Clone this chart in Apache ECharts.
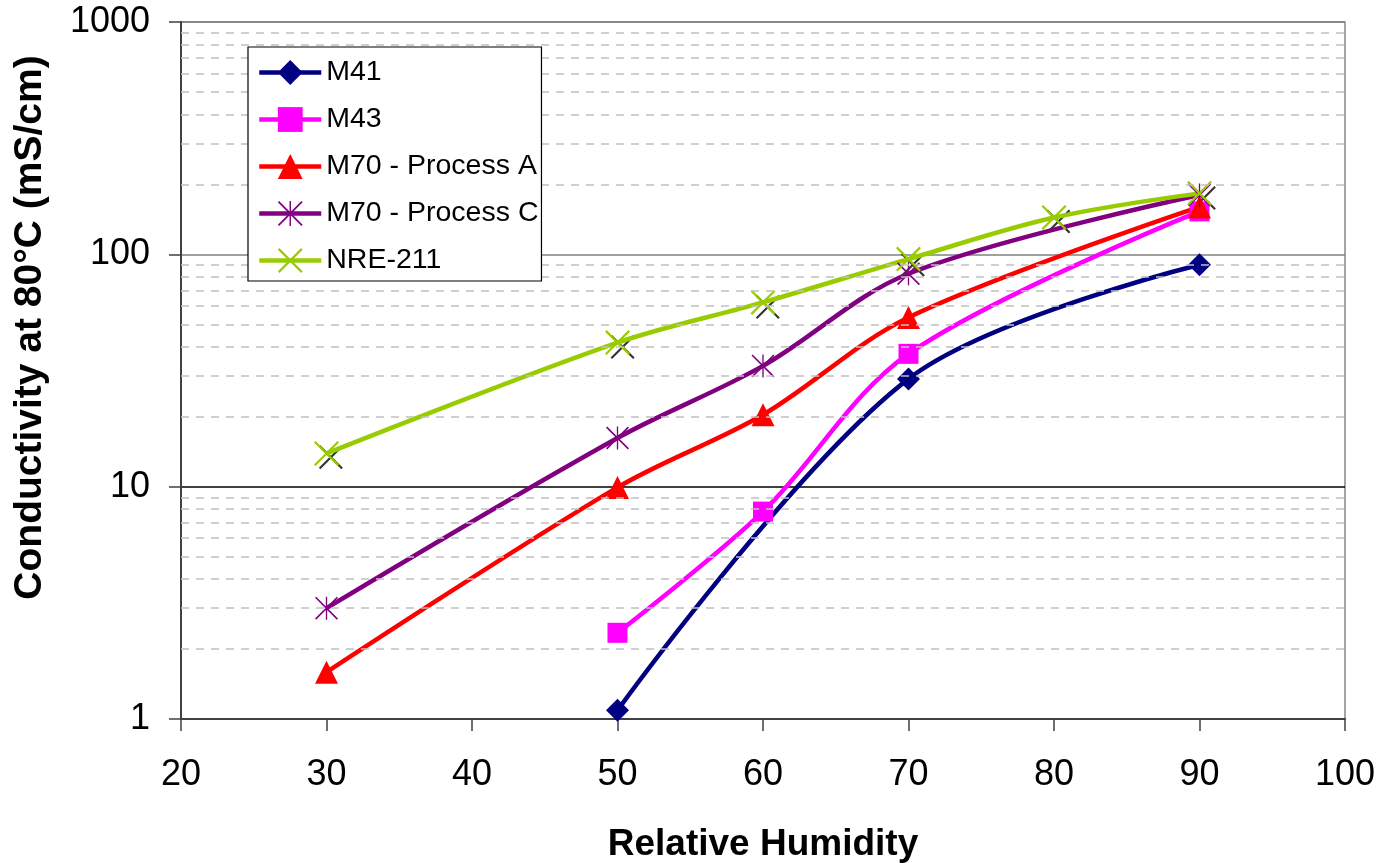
<!DOCTYPE html>
<html>
<head>
<meta charset="utf-8">
<script src="https://cdn.jsdelivr.net/npm/echarts@6/dist/echarts.min.js"></script>
<style>
html,body{margin:0;padding:0;background:#fff;}
#chart{width:1380px;height:863px;}
</style>
</head>
<body>
<div id="chart"></div>
<script>
// ---- data ----
const xTicks = [20, 30, 40, 50, 60, 70, 80, 90, 100];
const yTicks = [1, 10, 100, 1000];
const minorGridValues = [2,3,4,5,6,7,8,9,20,30,40,50,60,70,80,90,200,300,400,500,600,700,800,900];

const seriesNames = ['M41', 'M43', 'M70 - Process A', 'M70 - Process C', 'NRE-211'];

const rhM41 = [50, 70, 90];
const valM41 = [1.09, 29.1, 90.2];

const rhM43 = [50, 60, 70, 90];
const valM43 = [2.35, 7.81, 37.3, 153];

const rhM70A = [30, 50, 60, 70, 90];
const valM70A = [1.59, 9.93, 20.4, 53.5, 160];

const rhM70C = [30, 50, 60, 70, 90];
const valM70C = [3.0, 16.2, 33.1, 82.5, 180];

const rhNRE = [30, 50, 60, 70, 80, 90];
const valNRE = [13.9, 41.7, 62.1, 95.4, 144, 183];

// unlabelled black cross markers (no legend entry)
const rhBlack = [30.3, 50.35, 60.33, 70.3, 80.3, 90.3];
const valBlack = [13.4, 39.9, 59.3, 90.2, 138.6, 174.8];

// ---- helpers ----
function zip(xs, ys) { return xs.map((x, i) => [x, ys[i]]); }

const X_PATH = 'path://M0,1.5L1.5,0L24,22.5L22.5,24Z M22.5,0L24,1.5L1.5,24L0,22.5Z';
const STAR_PATH = 'path://M0,1.2L1.2,0L24,22.8L22.8,24Z M22.8,0L24,1.2L1.2,24L0,22.8Z M11.3,0L12.7,0L12.7,24L11.3,24Z';

const FONT = '"Liberation Sans", Arial, sans-serif';

function lineSeries(name, xs, ys, color, symbol, size) {
  return {
    name: name,
    type: 'line',
    data: zip(xs, ys),
    smooth: 0.33,
    symbol: symbol,
    symbolSize: size,
    showAllSymbol: true,
    lineStyle: { color: color, width: 4.5 },
    itemStyle: { color: color, borderWidth: 0 },
    emphasis: { disabled: true },
    z: 3
  };
}

const chart = echarts.init(document.getElementById('chart'), null, { renderer: 'canvas' });

const option = {
  animation: false,
  backgroundColor: '#ffffff',
  textStyle: { fontFamily: FONT },
  grid: {
    left: 181, right: 35, top: 22, bottom: 144,
    outerBoundsMode: 'none',
    containLabel: false,
    show: true, borderColor: '#888888', borderWidth: 1.5, backgroundColor: 'transparent'
  },
  legend: {
    data: seriesNames,
    orient: 'vertical',
    left: 248, top: 47,
    padding: [10, 3, 5, 9],
    itemWidth: 62, itemHeight: 31,
    itemGap: 16,
    borderColor: '#000', borderWidth: 1.2,
    backgroundColor: '#fff',
    lineStyle: { width: 4.5 },
    textStyle: { fontFamily: FONT, fontSize: 28.5, color: '#000', lineHeight: 31 },
    selectedMode: false,
    z: 10
  },
  xAxis: {
    type: 'value',
    min: xTicks[0], max: xTicks[xTicks.length - 1], interval: 10,
    name: 'Relative Humidity',
    nameLocation: 'middle',
    nameGap: 107,
    nameTextStyle: { fontFamily: FONT, fontSize: 37, fontWeight: 'bold', color: '#000' },
    axisLine: { show: true, lineStyle: { color: '#404040', width: 2 } },
    axisTick: { show: true, inside: false, length: 12, lineStyle: { color: '#404040', width: 1.5 } },
    axisLabel: { fontFamily: FONT, fontSize: 36, color: '#000', margin: 38 },
    splitLine: { show: false }
  },
  yAxis: {
    type: 'log', logBase: 10,
    min: yTicks[0], max: yTicks[yTicks.length - 1],
    name: 'Conductivity at 80°C (mS/cm)',
    nameLocation: 'middle',
    nameRotate: 90,
    nameGap: 131,
    nameTextStyle: { fontFamily: FONT, fontSize: 39, fontWeight: 'bold', color: '#000', padding: [0, 0, 0, 86] },
    axisLine: { show: true, lineStyle: { color: '#404040', width: 2 } },
    axisTick: { show: true, inside: false, length: 12, lineStyle: { color: '#404040', width: 1.5 } },
    axisLabel: { fontFamily: FONT, fontSize: 36, color: '#000', margin: 31, formatter: v => String(v) },
    splitLine: { show: true, lineStyle: { color: ['#000000', '#000000', '#808080', '#808080'], width: 1.5 } },
    minorTick: { show: false },
    minorSplitLine: { show: false }
  },
  series: [
    {
      name: '_minorGrid',
      type: 'line',
      data: [],
      silent: true,
      z: 1,
      markLine: {
        silent: true,
        symbol: ['none', 'none'],
        label: { show: false },
        lineStyle: { color: '#c0c0c0', width: 1.5, type: [8, 7] },
        emphasis: { disabled: true },
        data: minorGridValues.map(v => ({ yAxis: v }))
      }
    },
    {
      name: '_black',
      type: 'scatter',
      data: zip(rhBlack, valBlack),
      symbol: X_PATH,
      symbolSize: 24,
      itemStyle: { color: '#000' },
      emphasis: { disabled: true },
      z: 2
    },
    lineSeries(seriesNames[0], rhM41, valM41, '#000080', 'diamond', 23),
    lineSeries(seriesNames[1], rhM43, valM43, '#ff00ff', 'rect', 20),
    lineSeries(seriesNames[2], rhM70A, valM70A, '#ff0000', 'triangle', 23),
    lineSeries(seriesNames[3], rhM70C, valM70C, '#800080', STAR_PATH, 23),
    lineSeries(seriesNames[4], rhNRE, valNRE, '#99cc00', X_PATH, 25)
  ]
};

chart.setOption(option);
</script>
</body>
</html>
